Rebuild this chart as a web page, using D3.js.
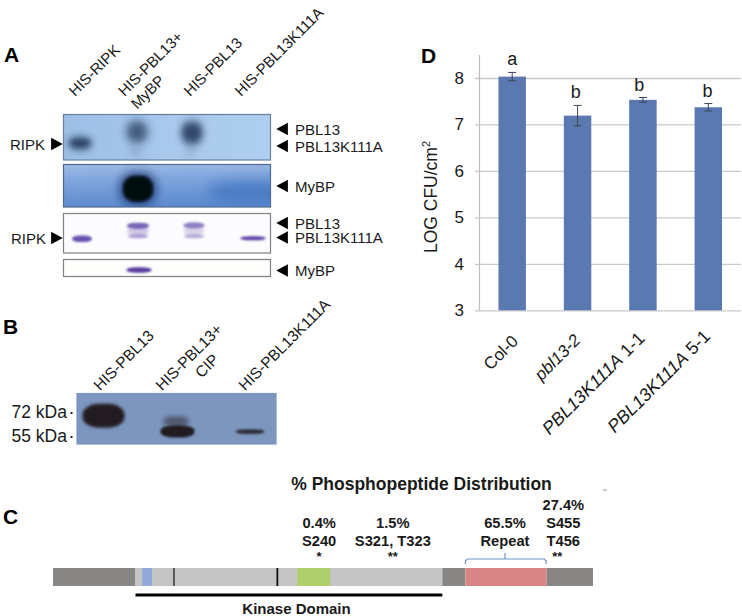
<!DOCTYPE html>
<html>
<head>
<meta charset="utf-8">
<script src="https://cdn.jsdelivr.net/npm/d3@7"></script>
<style>
html, body { margin: 0; padding: 0; background: #fff; }
svg { display: block; }
text { font-family: "Liberation Sans", Arial, sans-serif; fill: #1a1a1a; }
.panel { font-size: 21px; font-weight: bold; fill: #000; }
.gridAxis .domain { display: none; }
.xAxis .domain { display: none; }
</style>
</head>
<body>
<script>
/* D: bacterial growth */
var categories = ["Col-0", "pbl13-2", "PBL13K111A 1-1", "PBL13K111A 5-1"];
var catItalic = ["", "pbl13-2", "PBL13K111A", "PBL13K111A"];
var logCfu = [8.03, 7.19, 7.53, 7.37];
var logCfuErr = [0.09, 0.22, 0.05, 0.08];
var sigLetters = ["a", "b", "b", "b"];
var yTicks = [3, 4, 5, 6, 7, 8];

/* A and B: lanes of the gels */
var lanesA = ["HIS-RIPK", "HIS-PBL13+|MyBP", "HIS-PBL13", "HIS-PBL13K111A"];
var lanesB = ["HIS-PBL13", "HIS-PBL13+|CIP", "HIS-PBL13K111A"];

/* band = [lane index, migration 0 top..1 bottom, signal 0..1] */
var autoradBands = [[0, 0.63, 0.5], [0, 0.63, 0.8], [1, 0.38, 0.75], [1, 0.82, 0.14], [2, 0.4, 0.55], [2, 0.4, 0.7], [2, 0.8, 0.12]];
var mybpBands = [[3, 0.62, 0.4], [1, 0.57, 0.65], [1, 0.57, 1]];
var stainBands = [[0, 0.64, 0.9], [1, 0.44, 0.28], [1, 0.31, 0.8], [1, 0.575, 0.45], [2, 0.44, 0.22], [2, 0.3, 0.65], [2, 0.575, 0.38], [3, 0.625, 1]];
var stainMybpBands = [[1, 0.62, 0.95]];
var westernBands = [[0, 0.44, 1], [1, 0.55, 0.5], [1, 0.75, 1], [2, 0.755, 0.85]];

var arrowsA1 = ["PBL13", "PBL13K111A"];
var arrowsA2 = ["MyBP"];
var arrowsA3 = ["PBL13", "PBL13K111A"];
var arrowsA4 = ["MyBP"];
var markersB = ["72 kDa", "55 kDa"];

/* C: protein map, in residues */
var proteinLength = 491;
var kinaseDomain = [75, 354];
var mapRegions = [
	[0, 75, "#888685"], [75, 354, "#c6c5c5"], [354, 375, "#888685"],
	[375, 449, "#d98586"], [449, 491, "#888685"],
	[81, 90, "#93a9db"], [222, 252, "#b1cf6c"]
];
var mapMarks = [110, 204];
var phosphoLabels = [
	{pos: 242, lines: ["0.4%", "S240"], stars: "*"},
	{pos: 309, lines: ["1.5%", "S321, T323"], stars: "**"},
	{pos: 411, lines: ["65.5%", "Repeat"], stars: ""},
	{pos: 464, lines: ["27.4%", "S455", "T456"], stars: "**"}
];

var width = 742, height = 616;

var svg = d3.select("body").append("svg")
	.attr("width", width)
	.attr("height", height);

var defs = svg.append("defs");
[1, 2, 3, 4, 5, 6, 8, 12].forEach(function(b) {
	defs.append("filter")
		.attr("id", "blur" + b)
		.attr("x", "-80%").attr("y", "-150%")
		.attr("width", "260%").attr("height", "400%")
		.append("feGaussianBlur").attr("stdDeviation", b / 2);
});

function gradient(id, stops, horizontal) {
	var g = defs.append("linearGradient").attr("id", id)
		.attr("x1", 0).attr("y1", 0)
		.attr("x2", horizontal ? 1 : 0.12).attr("y2", horizontal ? 0 : 1);
	stops.forEach(function(s) {
		g.append("stop").attr("offset", s[0]).attr("stop-color", s[1]);
	});
}
gradient("bgA1", [[0, "#9dbfe6"], [0.5, "#a8c8ec"], [1, "#afcfef"]], true);
gradient("bgA2", [[0, "#9ebbe6"], [0.4, "#7ea4dc"], [1, "#5c8bcf"]], false);

/* one gel image: background, blurred bands, frame */
function drawBlot(box, bg, edge, bands, laneX, shape, ink) {
	var id = "clip" + box.y;
	defs.append("clipPath").attr("id", id)
		.append("rect")
		.attr("x", box.x).attr("y", box.y)
		.attr("width", box.w).attr("height", box.h);

	var yMig = d3.scaleLinear().domain([0, 1]).range([box.y, box.y + box.h]);

	var g = svg.append("g");
	g.append("rect")
		.attr("x", box.x).attr("y", box.y)
		.attr("width", box.w).attr("height", box.h)
		.attr("fill", bg);

	var inner = g.append("g").attr("clip-path", "url(#" + id + ")");
	inner.selectAll("rect")
		.data(bands)
		.enter()
		.append("rect")
		.attr("x", function(d, i) { return laneX(d[0]) + shape[i][2] - shape[i][0]; })
		.attr("y", function(d, i) { return yMig(d[1]) - shape[i][1]; })
		.attr("width", function(d, i) { return 2 * shape[i][0]; })
		.attr("height", function(d, i) { return 2 * shape[i][1]; })
		.attr("rx", function(d, i) { return shape[i][0] * 0.8; })
		.attr("ry", function(d, i) { return shape[i][1] * 0.9; })
		.attr("fill", function(d, i) { return ink(i); })
		.attr("opacity", function(d) { return d[2]; })
		.attr("filter", function(d, i) { return "url(#blur" + shape[i][3] + ")"; });

	g.append("rect")
		.attr("x", box.x).attr("y", box.y)
		.attr("width", box.w).attr("height", box.h)
		.attr("fill", "none")
		.attr("stroke", edge)
		.attr("stroke-width", 1.2);
}

/* right-pointing or left-pointing black marker */
function arrow(x, y, dir) {
	svg.append("path")
		.attr("d", d3.symbol().type(d3.symbolTriangle).size(70))
		.attr("transform", "translate(" + x + "," + y + ") rotate(" + (dir > 0 ? 90 : -90) + ") scale(1,1.05)")
		.attr("fill", "#000");
}

function arrowLabels(names, ys) {
	names.forEach(function(n, i) {
		arrow(284, ys[i], -1);
		svg.append("text")
			.attr("x", 295).attr("y", ys[i] + 5.5)
			.attr("font-size", 15)
			.text(n);
	});
}

function laneLabels(lanes, anchors, y, size, second) {
	lanes.forEach(function(l, i) {
		var parts = l.split("|");
		var t = svg.append("text")
			.attr("transform", "translate(" + anchors[i] + "," + y + ") rotate(-45)")
			.attr("font-size", size);
		parts.forEach(function(p, k) {
			t.append("tspan")
				.attr("x", k == 0 ? 0 : second[0])
				.attr("dy", k == 0 ? 0 : second[1])
				.text(p);
		});
	});
}

/* ---- panel A ---- */
svg.append("text").attr("class", "panel").attr("x", 4).attr("y", 62).text("A");

var laneA = d3.scaleOrdinal().domain([0, 1, 2, 3]).range([80, 137, 192, 253]);

drawBlot({x: 63.5, y: 114.5, w: 207, h: 45.5}, "url(#bgA1)", "#66809c", autoradBands, laneA,
	[[13, 8, 0, 6], [9, 4, 0, 4], [10.5, 11, 0, 8], [7, 5, -1, 6], [12, 13, 0, 6], [8, 8, 0, 5], [6, 6, -1, 6]],
	function() { return "#23385a"; });
drawBlot({x: 63.5, y: 164.5, w: 207, h: 42.5}, "url(#bgA2)", "#506a8c", mybpBands, laneA,
	[[46, 10, 0, 12], [19, 17, 1, 8], [15, 13, 1, 3]],
	function(i) { return ["#1e55ad", "#10275f", "#05070f"][i]; });
drawBlot({x: 63.5, y: 213.5, w: 207, h: 39.5}, "#fcfbfd", "#7f7f84", stainBands, laneA,
	[[10, 3.2, 2, 2], [10.5, 4.5, 1, 3], [11, 3, 1, 2], [10, 2, 1, 2], [10, 4.5, 2, 3], [10.5, 3, 2, 2], [10, 2, 2, 2], [12.5, 2, 0, 2]],
	function() { return "#5a3fa6"; });
drawBlot({x: 63.5, y: 259.5, w: 207, h: 17}, "#fdfdfb", "#7f7f84", stainMybpBands, laneA,
	[[12.5, 2.8, 2, 2]],
	function() { return "#4f3199"; });

laneLabels(lanesA, [75, 124.5, 190, 241], 97, 15, [0, 18]);

arrowLabels(arrowsA1, [129, 146]);
arrowLabels(arrowsA2, [186]);
arrowLabels(arrowsA3, [223, 237.5]);
arrowLabels(arrowsA4, [270.5]);

[[144, 10], [238, 11]].forEach(function(r) {
	svg.append("text").attr("x", r[1]).attr("y", r[0] + 5.5).attr("font-size", 15).text("RIPK");
	arrow(55, r[0], 1);
});

/* ---- panel B ---- */
svg.append("text").attr("class", "panel").attr("x", 3).attr("y", 334).text("B");

var laneB = d3.scaleOrdinal().domain([0, 1, 2]).range([103, 177, 250]);

drawBlot({x: 77, y: 393.5, w: 199, h: 50.5}, "#7c96be", "#7c96be", westernBands, laneB,
	[[21, 12, 0.5, 3], [13, 5, -1, 4], [17, 6.2, 0.5, 2], [14.5, 2.4, 0, 2]],
	function() { return "#241f22"; });

laneLabels(lanesB, [100, 162, 245], 391.5, 15.5, [37, 19]);

markersB.forEach(function(m, i) {
	var yb = [417.5, 441.5][i];
	svg.append("text").attr("x", 67).attr("y", yb)
		.attr("text-anchor", "end").attr("font-size", 17.5).text(m);
	svg.append("rect").attr("x", 70.5).attr("y", yb - 5.5)
		.attr("width", 2).attr("height", 2).attr("fill", "#222");
});

/* ---- panel C ---- */
svg.append("text").attr("class", "panel").attr("x", 3).attr("y", 524).text("C");

var xRes = d3.scaleLinear().domain([0, proteinLength]).range([53, 593]);
var mapTop = 568, mapH = 18;

svg.append("g").selectAll("rect")
	.data(mapRegions)
	.enter()
	.append("rect")
	.attr("x", function(d) { return xRes(d[0]); })
	.attr("y", mapTop)
	.attr("width", function(d) { return xRes(d[1]) - xRes(d[0]); })
	.attr("height", mapH)
	.attr("fill", function(d) { return d[2]; });

svg.append("g").selectAll("line")
	.data(mapMarks)
	.enter()
	.append("line")
	.attr("x1", function(d) { return xRes(d); })
	.attr("x2", function(d) { return xRes(d); })
	.attr("y1", mapTop)
	.attr("y2", mapTop + mapH)
	.attr("stroke", "#111")
	.attr("stroke-width", function(d, i) { return i == 0 ? 1.2 : 1.8; });

svg.append("line")
	.attr("x1", xRes(kinaseDomain[0])).attr("x2", xRes(kinaseDomain[1]))
	.attr("y1", 595).attr("y2", 595)
	.attr("stroke", "#000").attr("stroke-width", 2.8);

svg.append("text").attr("x", 296.5).attr("y", 614)
	.attr("text-anchor", "middle")
	.attr("font-size", 15).attr("font-weight", "bold")
	.text("Kinase Domain");

svg.append("text").attr("x", 421.5).attr("y", 490)
	.attr("text-anchor", "middle")
	.attr("font-size", 17.5).attr("font-weight", "bold")
	.text("% Phosphopeptide Distribution");

phosphoLabels.forEach(function(p) {
	var three = p.lines.length == 3;
	var base = three ? 510 : 528;
	var px = xRes(p.pos);
	p.lines.forEach(function(l, i) {
		svg.append("text").attr("x", px).attr("y", base + i * 18)
			.attr("text-anchor", "middle")
			.attr("font-size", 14.7).attr("font-weight", "bold")
			.text(l);
	});
	if (p.stars) {
		svg.append("text").attr("x", three ? px - 6 : px).attr("y", 561)
			.attr("text-anchor", "middle")
			.attr("font-size", 13).attr("font-weight", "bold")
			.text(p.stars);
	}
});

/* brace above the repeat */
var braceL = xRes(375), braceR = xRes(448.5), braceM = xRes(411);
svg.append("path")
	.attr("d", d3.line()([[braceL, 564], [braceL, 561], [braceL + 2, 559], [braceM, 559], [braceM, 553], [braceM, 559], [braceR - 2, 559], [braceR, 561], [braceR, 564]]))
	.attr("fill", "none")
	.attr("stroke", "#6f94cb")
	.attr("stroke-width", 1.2);

/* stray speck in the scan */
svg.append("line")
	.attr("x1", 603).attr("x2", 607)
	.attr("y1", 490).attr("y2", 490)
	.attr("stroke", "#999");

/* ---- panel D ---- */
svg.append("text").attr("class", "panel").attr("x", 421).attr("y", 63).text("D");

var x = d3.scaleBand()
	.domain(categories)
	.range([479.5, 741])
	.paddingInner(0.58)
	.paddingOuter(0.29);

var y = d3.scaleLinear()
	.domain([3, 8])
	.range([310.3, 78]);

var yAxis = d3.axisLeft(y)
	.tickValues(yTicks)
	.tickSize(266)
	.tickPadding(11)
	.tickFormat(d3.format("d"));

var gy = svg.append("g")
	.attr("class", "gridAxis")
	.attr("transform", "translate(741,0)")
	.call(yAxis);
gy.selectAll("line").attr("stroke", "#c9c9c9").attr("stroke-width", 1.3);
gy.selectAll("text")
	.attr("font-size", 17)
	.style("font-family", '"Liberation Sans", Arial, sans-serif')
	.style("fill", "#1a1a1a");

svg.append("line")
	.attr("x1", 479.5).attr("x2", 479.5)
	.attr("y1", 55).attr("y2", 310.3)
	.attr("stroke", "#bdbdbd").attr("stroke-width", 1.2);

svg.append("g").selectAll("rect")
	.data(categories)
	.enter()
	.append("rect")
	.attr("x", function(d) { return x(d); })
	.attr("y", function(d, i) { return y(logCfu[i]); })
	.attr("width", x.bandwidth())
	.attr("height", function(d, i) { return y(3) - y(logCfu[i]); })
	.attr("fill", "#5b79b1");

var errG = svg.append("g").attr("stroke", "#3d4654").attr("stroke-width", 1);
categories.forEach(function(c, i) {
	var cx = x(c) + x.bandwidth() / 2;
	var top = y(logCfu[i] + logCfuErr[i]), bot = y(logCfu[i] - logCfuErr[i]);
	errG.append("line").attr("x1", cx).attr("x2", cx).attr("y1", top).attr("y2", bot);
	errG.append("line").attr("x1", cx - 4).attr("x2", cx + 4).attr("y1", top).attr("y2", top);
	errG.append("line").attr("x1", cx - 4).attr("x2", cx + 4).attr("y1", bot).attr("y2", bot);
	svg.append("text")
		.attr("x", cx - [0, 1.7, 3.8, 0.7][i])
		.attr("y", top - 7)
		.attr("text-anchor", "middle")
		.attr("font-size", 18)
		.text(sigLetters[i]);
});

var xAxis = d3.axisBottom(x).tickSize(0).tickFormat("");
var gx = svg.append("g")
	.attr("class", "xAxis")
	.attr("transform", "translate(0,310.3)")
	.call(xAxis);

gx.selectAll(".tick").each(function(c, i) {
	var t = d3.select(this).append("text")
		.attr("transform", "translate(" + [7, 4, 3, 3][i] + "," + [32, 31, 29, 27][i] + ") rotate(-45)")
		.attr("text-anchor", "end")
		.attr("font-size", i < 2 ? 17 : 18)
		.style("font-family", '"Liberation Sans", Arial, sans-serif')
		.style("fill", "#1a1a1a");
	var it = catItalic[i];
	if (!it) {
		t.text(c);
	} else {
		t.append("tspan").attr("font-style", "italic").text(it);
		t.append("tspan").text(c.slice(it.length));
	}
});

var yLab = svg.append("text")
	.attr("transform", "translate(437,197) rotate(-90)")
	.attr("text-anchor", "middle")
	.attr("font-size", 17.5);
yLab.append("tspan").text("LOG CFU/cm");
yLab.append("tspan").attr("font-size", 11).attr("dy", -7).text("2");
</script>
</body>
</html>
